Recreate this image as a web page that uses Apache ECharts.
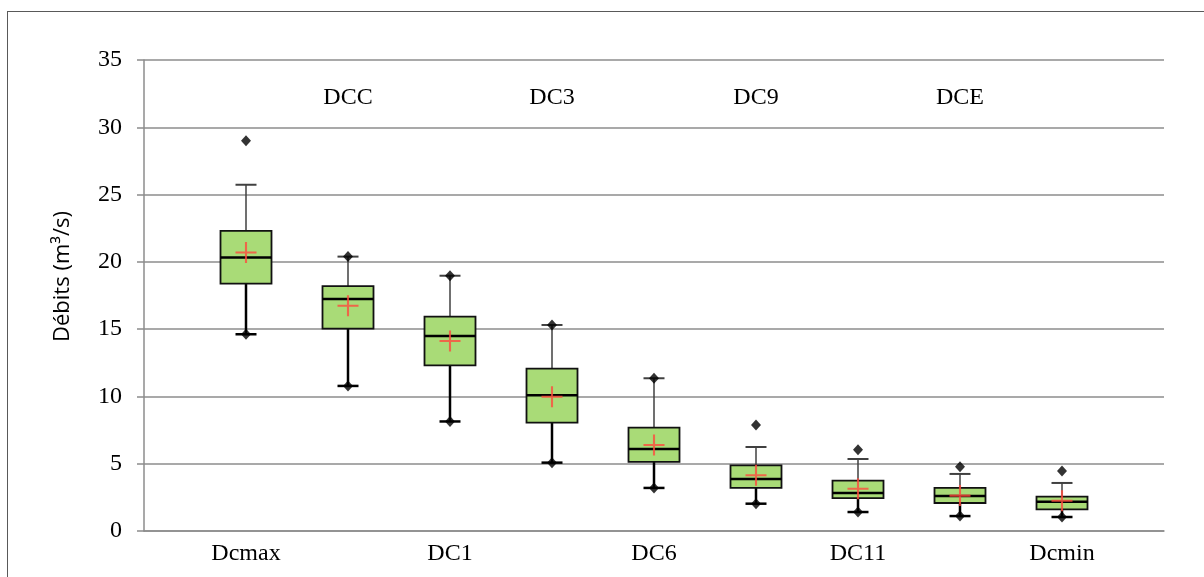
<!DOCTYPE html>
<html>
<head>
<meta charset="utf-8">
<script src="https://cdn.jsdelivr.net/npm/echarts@6/dist/echarts.min.js"></script>
<style>
html,body{margin:0;padding:0;background:#fff;overflow:hidden;width:1204px;height:577px;}
#chart{position:absolute;left:0;top:0;width:1204px;height:577px;}
#frame{position:absolute;left:7px;top:11px;width:1220px;height:620px;border:1px solid #595959;pointer-events:none;}
</style>
</head>
<body>
<div id="chart"></div>
<div id="frame"></div>
<script>
// ---- data ----
const categories = ['Dcmax','DCC','DC1','DC3','DC6','DC9','DC11','DCE','Dcmin'];
const whiskerLow  = [14.62, 10.78, 8.14, 5.08, 3.20, 2.03, 1.41, 1.11, 1.04];
const q1          = [18.38, 15.04, 12.31, 8.05, 5.13, 3.20, 2.45, 2.08, 1.61];
const median      = [20.32, 17.24, 14.49, 10.08, 6.09, 3.86, 2.82, 2.60, 2.18];
const q3          = [22.30, 18.20, 15.93, 12.06, 7.68, 4.88, 3.74, 3.20, 2.55];
const whiskerHigh = [25.73, 20.39, 18.97, 15.31, 11.35, 6.24, 5.35, 4.24, 3.57];
const means       = [20.70, 16.74, 14.12, 9.98, 6.39, 4.14, 3.14, 2.63, 2.25];
const maxObserved = [29.00, 20.39, 18.97, 15.31, 11.35, 7.88, 6.04, 4.78, 4.46];
const minObserved = [14.62, 10.78, 8.14, 5.08, 3.20, 2.03, 1.41, 1.11, 1.04];
const yTicks = [0, 5, 10, 15, 20, 25, 30, 35];
const yTitle = 'Débits (m³/s)';

const boxData = categories.map((c, i) => [i, whiskerLow[i], q1[i], median[i], q3[i], whiskerHigh[i]]);
const extremes = [];
categories.forEach((c, i) => { extremes.push([i, minObserved[i]]); extremes.push([i, maxObserved[i]]); });
const meanData = categories.map((c, i) => [i, means[i]]);

const serif = '"Liberation Serif","Times New Roman",serif';
const chart = echarts.init(document.getElementById('chart'), null, {renderer: 'canvas'});

function renderBox(params, api) {
  const i = api.value(0);
  const pLow = api.coord([i, api.value(1)]);
  const pQ1 = api.coord([i, api.value(2)]);
  const pMed = api.coord([i, api.value(3)]);
  const pQ3 = api.coord([i, api.value(4)]);
  const pHigh = api.coord([i, api.value(5)]);
  const x = pQ1[0];
  const bw = 51, cw = 21;
  return {
    type: 'group',
    children: [
      {type: 'line', shape: {x1: x, y1: pQ3[1], x2: x, y2: pHigh[1]}, style: {stroke: '#404040', lineWidth: 1.5}},
      {type: 'line', shape: {x1: x - cw/2, y1: pHigh[1], x2: x + cw/2, y2: pHigh[1]}, style: {stroke: '#404040', lineWidth: 2}},
      {type: 'line', shape: {x1: x, y1: pQ1[1], x2: x, y2: pLow[1]}, style: {stroke: '#000', lineWidth: 2.5}},
      {type: 'line', shape: {x1: x - cw/2, y1: pLow[1], x2: x + cw/2, y2: pLow[1]}, style: {stroke: '#000', lineWidth: 2.5}},
      {type: 'rect', shape: {x: x - bw/2, y: pQ3[1], width: bw, height: pQ1[1] - pQ3[1]}, style: {fill: '#a9db77', stroke: '#111', lineWidth: 1.8}},
      {type: 'line', shape: {x1: x - bw/2, y1: pMed[1], x2: x + bw/2, y2: pMed[1]}, style: {stroke: '#000', lineWidth: 2.5}}
    ]
  };
}

const option = {
  animation: false,
  grid: [
    {left: 144, right: 40, top: 60, bottom: 46},
    {left: 195, right: 91, top: 60, bottom: 46}
  ],
  xAxis: [
    {gridIndex: 0, type: 'value', min: 0, max: 1, axisLine: {show: true, lineStyle: {color: '#8c8c8c', width: 1.5}},
     axisTick: {show: false}, axisLabel: {show: false}, splitLine: {show: false}},
    {gridIndex: 1, type: 'category', data: categories, boundaryGap: true, position: 'bottom',
     axisLine: {show: false}, axisTick: {show: false}, splitLine: {show: false},
     axisLabel: {interval: 0, margin: 11, color: '#000', fontFamily: serif, fontSize: 24,
       formatter: (v, idx) => (idx % 2 === 0 ? v : '')}},
    {gridIndex: 1, type: 'category', data: categories, boundaryGap: true, position: 'top',
     axisLine: {show: false}, axisTick: {show: false}, splitLine: {show: false},
     axisLabel: {interval: 0, inside: true, margin: 26, color: '#000', fontFamily: serif, fontSize: 24,
       formatter: (v, idx) => (idx % 2 === 1 ? v : '')}}
  ],
  yAxis: [
    {gridIndex: 0, type: 'value', min: yTicks[0], max: yTicks[yTicks.length - 1], interval: 5,
     axisLine: {show: true, lineStyle: {color: '#8c8c8c', width: 1.5}},
     axisTick: {show: true, length: 7, lineStyle: {color: '#8c8c8c', width: 1.5}},
     splitLine: {show: true, lineStyle: {color: '#8c8c8c', width: 1.5}},
     axisLabel: {margin: 22, color: '#000', fontFamily: serif, fontSize: 24},
     name: yTitle, nameLocation: 'middle', nameGap: 70,
     nameTextStyle: {fontFamily: '"Open Sans","Liberation Sans",sans-serif', fontSize: 22, color: '#000', padding: [0, 0, 0, 38]}},
    {gridIndex: 1, type: 'value', min: yTicks[0], max: yTicks[yTicks.length - 1], show: false}
  ],
  series: [
    {type: 'custom', xAxisIndex: 1, yAxisIndex: 1, renderItem: renderBox, data: boxData, z: 2},
    {type: 'scatter', xAxisIndex: 1, yAxisIndex: 1, data: extremes, symbol: 'diamond', symbolSize: [10, 11],
     itemStyle: {color: '#000'}, z: 4},
    {type: 'scatter', xAxisIndex: 1, yAxisIndex: 1, data: meanData,
     symbol: 'path://M9,0h2v20h-2z M0,9h20v2h-20z', symbolSize: 21,
     itemStyle: {color: '#ff4a3d'}, z: 5}
  ]
};
chart.setOption(option);
</script>
</body>
</html>
